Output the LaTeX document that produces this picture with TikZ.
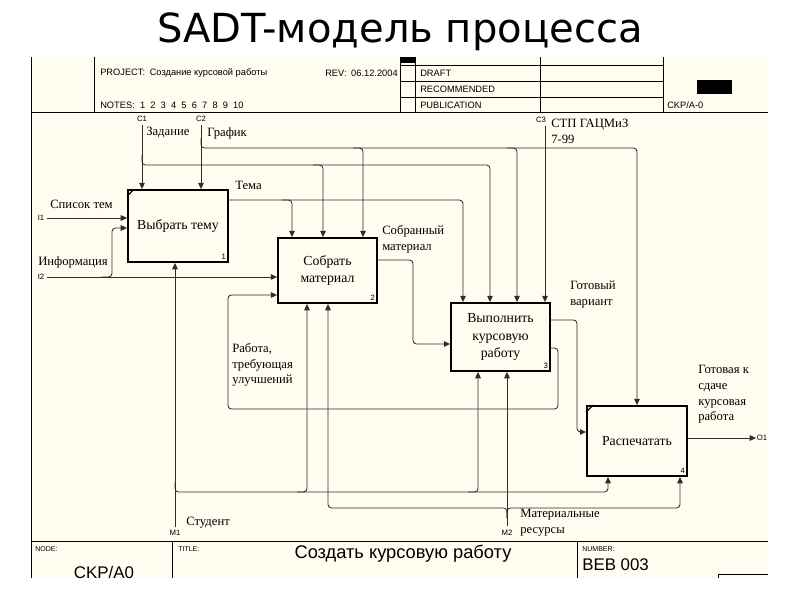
\documentclass[tikz,border=0pt]{standalone}
\usepackage{fontspec}
\setmainfont{Liberation Serif}
\setsansfont{Liberation Sans}
\newfontfamily\titlef{DejaVu Sans}
\usetikzlibrary{arrows.meta}
\definecolor{cream}{RGB}{255,252,240}
\definecolor{wirec}{RGB}{45,45,45}
\newcommand{\boxf}{\fontsize{9.8}{12.5}\selectfont}
\newcommand{\lblf}{\fontsize{9}{11.2}\selectfont}
\newcommand{\tagf}{\sffamily\fontsize{5.5}{6}\selectfont}
\newcommand{\hdrf}{\sffamily\fontsize{6.6}{7}\selectfont}
\newcommand{\ftrf}{\sffamily\fontsize{12}{13}\selectfont}
\newcommand{\gap}{\hspace{0.56em}}

\begin{document}
\begin{tikzpicture}[x=0.025cm, y=-0.025cm,
        proc/.style={draw, line width=1.3pt, fill=cream, align=center, font=\boxf, inner sep=0pt},
        wire/.style={draw=wirec, line width=0.6pt, rounded corners=2.5pt},
        arr/.style={wire, -{Triangle[length=4.5pt, width=4pt]}},
        lbl/.style={font=\lblf, align=left, inner sep=0pt},
        tag/.style={font=\tagf, inner sep=0pt},
        hdr/.style={font=\hdrf, anchor=west, inner sep=0pt},
        num/.style={font=\tagf, anchor=south east, inner sep=2pt}]

    \useasboundingbox (0,0) rectangle (800,600);
    \fill[white] (0,0) rectangle (800,600);
    \fill[cream] (31,57) rectangle (768,578);

    \node[font=\titlef\fontsize{28.5}{30}\selectfont] (title) at (400,32) {SADT-модель процесса};

    % header
    \draw[line width=0.6pt] (31,57) -- (31,578);
    \draw[line width=0.6pt] (31,112) -- (768,112);
    \foreach \x in {94, 400, 415, 540, 663}
        \draw[line width=0.6pt] (\x,57) -- (\x,112);
    \foreach \y in {65, 81, 97}
        \draw[line width=0.6pt] (400,\y) -- (663,\y);
    \fill (400,57) rectangle (415,63);
    \fill (697,80) rectangle (732,94);

    \node[hdr] (proj) at (100,73) {PROJECT:\enspace Создание курсовой работы};
    \node[hdr] (rev) at (325,73) {REV:\enspace 06.12.2004};
    \node[hdr] (notes) at (100,105) {NOTES:\gap 1\gap 2\gap 3\gap 4\gap 5\gap 6\gap 7\gap 8\gap 9\gap 10};
    \node[hdr] (draft) at (420,73) {DRAFT};
    \node[hdr] (recom) at (420,89) {RECOMMENDED};
    \node[hdr] (publ) at (420,105) {PUBLICATION};
    \node[hdr] (ctx) at (667,105) {CKP/A-0};

    % footer
    \draw[line width=0.6pt] (31,541) -- (768,541);
    \draw[line width=0.6pt] (172,541) -- (172,578);
    \draw[line width=0.6pt] (577,541) -- (577,578);
    \draw[line width=0.6pt] (718,578) -- (718,574) -- (768,574);
    \node[hdr, font=\sffamily\fontsize{5}{6}\selectfont] (fnode) at (35,549) {NODE:};
    \node[hdr, font=\sffamily\fontsize{5}{6}\selectfont] (ftitle) at (178,549) {TITLE:};
    \node[hdr, font=\sffamily\fontsize{5}{6}\selectfont] (fnum) at (582,549) {NUMBER:};
    \node[font=\sffamily\fontsize{13}{14}\selectfont, inner sep=0pt] (fname) at (403,554) {Создать курсовую работу};
    \node[font=\ftrf, inner sep=0pt] (fckp) at (104,572) {CKP/A0};
    \node[font=\ftrf, inner sep=0pt, anchor=west] (fbeb) at (582,565) {BEB 003};

    % activities
    \node[proc, minimum width=2.5cm, minimum height=1.8cm] (b1) at (178,226) {Выбрать тему};
    \node[proc, minimum width=2.475cm, minimum height=1.625cm] (b2) at (327.5,270.5) {Собрать\\материал};
    \node[proc, minimum width=2.475cm, minimum height=1.7cm] (b3) at (500.5,337) {Выполнить\\курсовую\\работу};
    \node[proc, minimum width=2.5cm, minimum height=1.75cm] (b4) at (637,441) {Распечатать};
    \node[num] (n1) at (b1.south east) {1};
    \node[num] (n2) at (b2.south east) {2};
    \node[num] (n3) at (b3.south east) {3};
    \node[num] (n4) at (b4.south east) {4};
    \draw[line width=0.9pt] ([yshift=-5pt]b1.north west) -- ([xshift=5pt]b1.north west);
    \draw[line width=0.9pt] ([yshift=-5pt]b4.north west) -- ([xshift=5pt]b4.north west);

    % boundary ends
    \coordinate (c1) at (142,125);
    \coordinate (c2) at (201,125);
    \coordinate (c3) at (545,126);
    \coordinate (i1) at (47,218);
    \coordinate (i2) at (47,277);
    \coordinate (o1) at (756,438);
    \coordinate (m1) at (175,527);
    \coordinate (m2) at (507,526);
    \node[tag] (tc1) at (142,119) {C1};
    \node[tag] (tc2) at (201,119) {C2};
    \node[tag] (tc3) at (541,120) {C3};
    \node[tag] (ti1) at (41,218) {I1};
    \node[tag] (ti2) at (41,277) {I2};
    \node[tag] (to1) at (762,438) {O1};
    \node[tag] (tm1) at (175,533) {M1};
    \node[tag] (tm2) at (507,533) {M2};

    % controls
    \draw[arr] (c1) -- (c1 |- b1.north);
    \draw[arr] (142,155) -- (142,165) -- (490,165) -- (490,165 |- b3.north);
    \draw[arr] (313,165) -- (323,165) -- (323,165 |- b2.north);
    \draw[arr] (c2) -- (c2 |- b1.north);
    \draw[arr] (201,138) -- (201,148) -- (637,148) -- (b4.north);
    \draw[arr] (353,148) -- (363,148) -- (363,148 |- b2.north);
    \draw[arr] (507,148) -- (517,148) -- (517,148 |- b3.north);
    \draw[arr] (c3) -- (c3 |- b3.north);
    \draw[arr] (b1.east |- 0,200) -- (463,200) -- (463,200 |- b3.north);
    \draw[arr] (282,200) -- (292,200) -- (292,200 |- b2.north);

    % inputs and outputs
    \draw[arr] (i1) -- (i1 -| b1.west);
    \draw[arr] (i2) -- (i2 -| b2.west);
    \draw[arr] (102,277) -- (112,277) -- (112,228) -- (b1.west |- 0,228);
    \draw[arr] (b2.east |- 0,260) -- (413,260) -- (413,344) -- (b3.west |- 0,344);
    \draw[arr] (b3.east |- 0,320) -- (577,320) -- (577,432) -- (b4.west |- 0,432);
    \draw[arr] (b3.east |- 0,348) -- (558,348) -- (558,409) -- (228,409) -- (228,295) -- (b2.west |- 0,295);
    \draw[arr] (b4.east |- 0,438) -- (o1);

    % mechanisms
    \draw[arr] (m1) -- (m1 |- b1.south);
    \draw[arr] (175,482) -- (175,492) -- (608,492) -- (608,492 |- b4.south);
    \draw[arr] (297,492) -- (307,492) -- (307,492 |- b2.south);
    \draw[arr] (468,492) -- (478,492) -- (478,492 |- b3.south);
    \draw[arr] (m2) -- (m2 |- b3.south);
    \draw[arr] (507,518) -- (507,508) -- (328,508) -- (328,508 |- b2.south);
    \draw[arr] (507,518) -- (507,508) -- (680,508) -- (680,508 |- b4.south);

    % arrow labels
    \node[lbl, anchor=west] (lzad) at (146,133) {Задание};
    \node[lbl, anchor=west] (lgraf) at (207,133) {График};
    \node[lbl, anchor=west] (ltema) at (235,185) {Тема};
    \node[lbl, anchor=west] (lspis) at (50,204) {Список тем};
    \node[lbl, anchor=west] (linf) at (38,262) {Информация};
    \node[lbl, anchor=north west] (lstp) at (551,119) {СТП ГАЦМиЗ\\7-99};
    \node[lbl, anchor=north west] (lsobr) at (382,225) {Собранный\\материал};
    \node[lbl, anchor=north west] (lgot) at (570,281) {Готовый\\вариант};
    \node[lbl, anchor=north west] (lrab) at (232,343) {Работа,\\требующая\\улучшений};
    \node[lbl, anchor=north west] (lsdacha) at (698,365) {Готовая к\\сдаче\\курсовая\\работа};
    \node[lbl, anchor=west] (lstud) at (186,523) {Студент};
    \node[lbl, anchor=north west] (lmat) at (520,509) {Материальные\\ресурсы};
\end{tikzpicture}
\end{document}
